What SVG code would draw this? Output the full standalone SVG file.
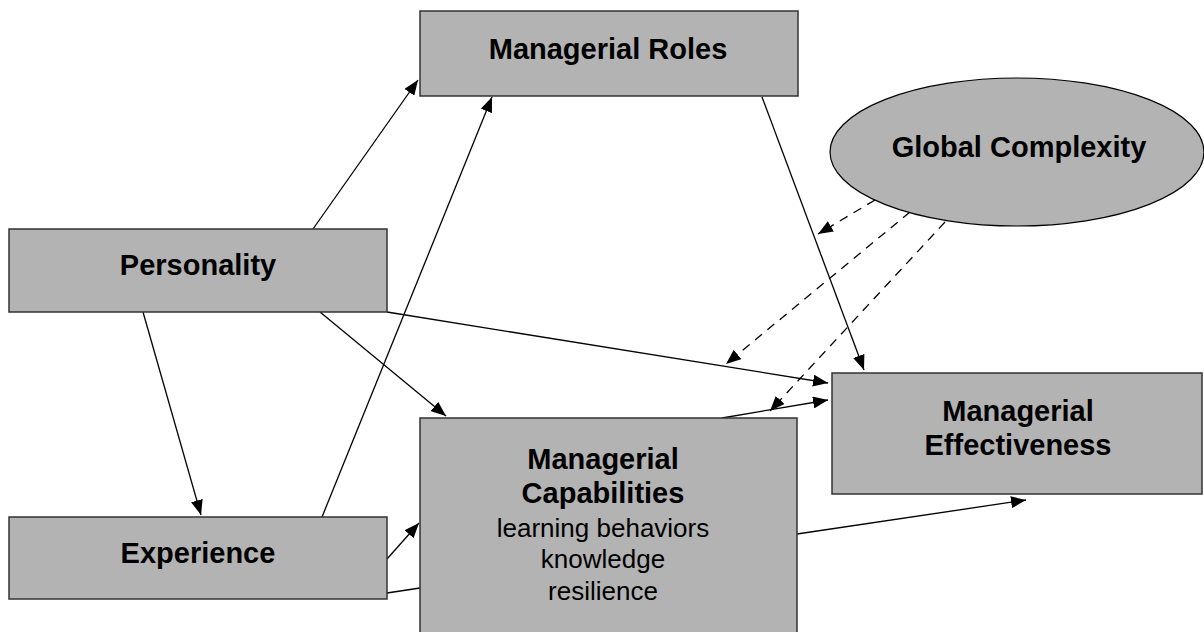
<svg xmlns="http://www.w3.org/2000/svg" width="1204" height="632" viewBox="0 0 1204 632">
<style>
.box{fill:#b3b3b3;stroke:#333;stroke-width:1.5}
.t{font-family:"Liberation Sans",Arial,sans-serif;font-size:29px;font-weight:bold;fill:#000;text-anchor:middle}
.r{font-family:"Liberation Sans",Arial,sans-serif;font-size:26px;fill:#000;text-anchor:middle}
.c{stroke:#000;stroke-width:1.3;fill:none}
.a{marker-end:url(#ah)}
.d{stroke-dasharray:9,7}
</style>
<defs>
<marker id="ah" viewBox="0 0 15 12" refX="15" refY="6" markerWidth="15" markerHeight="12" orient="auto" markerUnits="userSpaceOnUse">
<path d="M0,0 L15,6 L0,12 z" fill="#000"/>
</marker>
</defs>
<rect width="1204" height="632" fill="#fff"/>
<g id="connectors">
<line class="c a" x1="313" y1="229" x2="418" y2="80"/>
<line class="c a" x1="322" y1="517" x2="492" y2="97"/>
<line class="c a" x1="762" y1="97" x2="864" y2="370"/>
<line class="c a" x1="320" y1="312" x2="446" y2="416"/>
<line class="c a" x1="143" y1="312" x2="201" y2="515"/>
<line class="c a" x1="387" y1="312" x2="828" y2="383"/>
<line class="c a" x1="722" y1="418" x2="828" y2="400"/>
<line class="c a" x1="387" y1="559" x2="419" y2="523"/>
<line class="c" x1="387" y1="593" x2="420" y2="588"/>
<line class="c a" x1="797" y1="534" x2="1026" y2="500"/>
<line class="c d a" x1="875" y1="200" x2="818" y2="234"/>
<line class="c d a" x1="910" y1="212" x2="726" y2="364"/>
<line class="c d a" x1="945" y1="222" x2="770" y2="411"/>
</g>
<g id="roles">
<rect class="box" x="420" y="11" width="378" height="85"/>
<text class="t" x="608" y="59">Managerial Roles</text>
</g>
<g id="complexity">
<ellipse class="box" cx="1017" cy="152" rx="187" ry="74" style="stroke:#000;stroke-width:1.2"/>
<text class="t" x="1019" y="157">Global Complexity</text>
</g>
<g id="personality">
<rect class="box" x="9" y="229" width="378" height="83"/>
<text class="t" x="198" y="275">Personality</text>
</g>
<g id="experience">
<rect class="box" x="9" y="517" width="378" height="82"/>
<text class="t" x="198" y="563">Experience</text>
</g>
<g id="capabilities">
<rect class="box" x="420" y="418" width="377" height="216"/>
<text class="t" x="603" y="469">Managerial</text>
<text class="t" x="603" y="503">Capabilities</text>
<text class="r" x="603" y="537">learning behaviors</text>
<text class="r" x="603" y="568">knowledge</text>
<text class="r" x="603" y="600">resilience</text>
</g>
<g id="effectiveness">
<rect class="box" x="832" y="373" width="370" height="121"/>
<text class="t" x="1018" y="421">Managerial</text>
<text class="t" x="1018" y="455">Effectiveness</text>
</g>
</svg>
